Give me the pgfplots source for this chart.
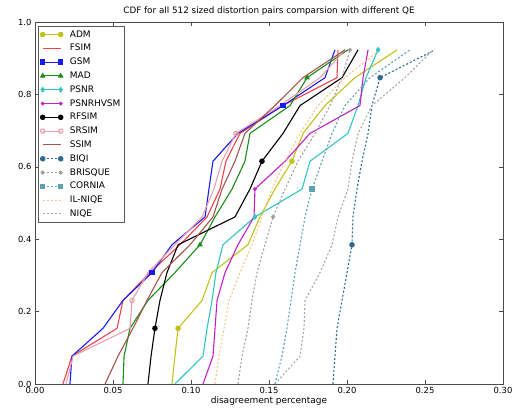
\documentclass[border=0pt]{standalone}
\usepackage{fontspec}
\setmainfont{DejaVu Sans}
\usepackage{pgfplots}
\pgfplotsset{compat=1.18}
\definecolor{cADM}{rgb}{0.76,0.76,0.10}
\definecolor{cFSIM}{rgb}{0.95,0.25,0.30}
\definecolor{cGSM}{rgb}{0.10,0.10,0.95}
\definecolor{cMAD}{rgb}{0.10,0.55,0.10}
\definecolor{cPSNR}{rgb}{0.20,0.77,0.77}
\definecolor{cPSNRH}{rgb}{0.76,0.12,0.78}
\definecolor{cRFSIM}{rgb}{0,0,0}
\definecolor{cSRSIM}{rgb}{0.91,0.63,0.68}
\definecolor{cSSIM}{rgb}{0.64,0.33,0.30}
\definecolor{cBIQI}{rgb}{0.18,0.42,0.56}
\definecolor{cBRISQUE}{rgb}{0.63,0.63,0.63}
\definecolor{cCORNIA}{rgb}{0.37,0.63,0.70}
\definecolor{cILNIQE}{rgb}{0.96,0.78,0.56}
\definecolor{cNIQE}{rgb}{0.64,0.66,0.69}
\begin{document}
\begin{tikzpicture}
\path[use as bounding box] (0pt,0pt) rectangle (512pt,412pt);
\begin{axis}[
  at={(35pt,28pt)}, anchor=south west,
  scale only axis, width=468pt, height=362pt,
  xmin=0, xmax=0.3, ymin=0, ymax=1,
  xtick={0,0.05,0.1,0.15,0.2,0.25,0.3},
  ytick={0,0.2,0.4,0.6,0.8,1.0},
  xticklabel style={/pgf/number format/fixed,/pgf/number format/fixed zerofill,/pgf/number format/precision=2},
  yticklabel style={/pgf/number format/fixed,/pgf/number format/fixed zerofill,/pgf/number format/precision=1},
  /pgf/number format/assume math mode=true,
  tick label style={font=\fontsize{8.4}{9}\selectfont},
  tick align=inside, major tick length=4pt,
  axis line style={black!70}, tick style={black!70},
  xlabel={disagreement percentage},
  xlabel style={font=\fontsize{9}{10}\selectfont, yshift=4pt},
  title={CDF for all 512 sized distortion pairs comparsion with different QE},
  title style={font=\fontsize{8.8}{10}\selectfont, yshift=-3pt},
  legend cell align=left,
  legend style={at={(0.006,0.988)}, anchor=north west, draw=black!65,
    font=\fontsize{9}{10}\selectfont, row sep=2.8pt, inner sep=2.5pt,
    nodes={inner sep=1pt, text height=7pt, text depth=2pt},
    /tikz/every odd column/.append style={column sep=6pt}},
  legend image code/.code={\draw[#1, mark indices={1,2}] plot coordinates {(0pt,0pt) (18pt,0pt)};},
  every axis plot/.append style={line width=1.1pt},
  mark size=2.2pt,
]
\addplot[cADM, mark=*, mark options={fill=cADM}, mark indices={3,9}] coordinates {
(0.0878,0) (0.0897,0.0769) (0.0917,0.1538) (0.1071,0.2308) (0.1135,0.3077) (0.1365,0.3846) (0.1442,0.4615) (0.1538,0.5385) (0.1647,0.6154) (0.1718,0.6923) (0.1859,0.7692) (0.2051,0.8462) (0.2321,0.9231)};
\addlegendentry{ADM}
\addplot[cFSIM, mark=none] coordinates {
(0.0179,0) (0.0237,0.0769) (0.0526,0.1538) (0.0564,0.2308) (0.0737,0.3077) (0.0929,0.3846) (0.1103,0.4615) (0.1186,0.5385) (0.1224,0.6154) (0.1314,0.6923) (0.1590,0.7692) (0.1936,0.8462) (0.1942,0.9231)};
\addlegendentry{FSIM}
\addplot[cGSM, mark=square*, mark options={fill=cGSM}, mark indices={5,11}] coordinates {
(0.0224,0) (0.0237,0.0769) (0.0436,0.1538) (0.0564,0.2308) (0.0750,0.3077) (0.0878,0.3846) (0.1090,0.4615) (0.1115,0.5385) (0.1141,0.6154) (0.1301,0.6923) (0.1590,0.7692) (0.1859,0.8462) (0.1923,0.9231)};
\addlegendentry{GSM}
\addplot[cMAD, mark=triangle*, mark options={fill=cMAD}, mark indices={6,12}] coordinates {
(0.0564,0) (0.0571,0.0769) (0.0609,0.1538) (0.0724,0.2308) (0.0897,0.3077) (0.1058,0.3846) (0.1154,0.4615) (0.1263,0.5385) (0.1346,0.6154) (0.1378,0.6923) (0.1635,0.7692) (0.1744,0.8462) (0.2006,0.9231)};
\addlegendentry{MAD}
\addplot[cPSNR, mark=diamond*, mark options={fill=cPSNR}, mark indices={7,13}] coordinates {
(0.0897,0) (0.1077,0.0769) (0.1103,0.1538) (0.1135,0.2308) (0.1160,0.3077) (0.1205,0.3846) (0.1410,0.4615) (0.1712,0.5385) (0.1763,0.6154) (0.2006,0.6923) (0.2071,0.7692) (0.2122,0.8462) (0.2199,0.9231)};
\addlegendentry{PSNR}
\addplot[cPSNRH, mark=*, mark size=1.3pt, mark options={fill=cPSNRH}, mark indices={8}] coordinates {
(0.1077,0) (0.1141,0.0769) (0.1154,0.1538) (0.1167,0.2308) (0.1218,0.3077) (0.1301,0.3846) (0.1404,0.4615) (0.1410,0.5385) (0.1603,0.6154) (0.1763,0.6923) (0.2083,0.7692) (0.2103,0.8462) (0.2135,0.9231)};
\addlegendentry{PSNRHVSM}
\addplot[cRFSIM, mark=*, mark options={fill=cRFSIM}, mark indices={3,9}] coordinates {
(0.0724,0) (0.0744,0.0769) (0.0769,0.1538) (0.0801,0.2308) (0.0846,0.3077) (0.0917,0.3846) (0.1282,0.4615) (0.1378,0.5385) (0.1455,0.6154) (0.1590,0.6923) (0.1699,0.7692) (0.1968,0.8462) (0.2071,0.9231)};
\addlegendentry{RFSIM}
\addplot[cSRSIM, mark=o, mark indices={4,10}] coordinates {
(0.0199,0) (0.0244,0.0769) (0.0609,0.1538) (0.0622,0.2308) (0.0724,0.3077) (0.0897,0.3846) (0.1071,0.4615) (0.1147,0.5385) (0.1199,0.6154) (0.1288,0.6923) (0.1571,0.7692) (0.1827,0.8462) (0.1987,0.9231)};
\addlegendentry{SRSIM}
\addplot[cSSIM, mark=none] coordinates {
(0.0449,0) (0.0532,0.0769) (0.0628,0.1538) (0.0718,0.2308) (0.0814,0.3077) (0.0994,0.3846) (0.1141,0.4615) (0.1199,0.5385) (0.1282,0.6154) (0.1346,0.6923) (0.1538,0.7692) (0.1718,0.8462) (0.1987,0.9231)};
\addlegendentry{SSIM}
\addplot[cBIQI, dash pattern=on 2pt off 2pt, mark=*, mark options={fill=cBIQI, solid}, mark indices={6,12}] coordinates {
(0.1910,0) (0.1923,0.0769) (0.1936,0.1538) (0.1968,0.2308) (0.2000,0.3077) (0.2032,0.3846) (0.2038,0.4615) (0.2064,0.5385) (0.2096,0.6154) (0.2135,0.6923) (0.2160,0.7692) (0.2212,0.8462) (0.2564,0.9231)};
\addlegendentry{BIQI}
\addplot[cBRISQUE, dash pattern=on 2pt off 2pt, mark=*, mark size=1.5pt, mark options={fill=cBRISQUE, solid}, mark indices={7,13}] coordinates {
(0.1301,0) (0.1327,0.0769) (0.1365,0.1538) (0.1391,0.2308) (0.1423,0.3077) (0.1474,0.3846) (0.1526,0.4615) (0.1603,0.5385) (0.1686,0.6154) (0.1795,0.6923) (0.1891,0.7692) (0.1968,0.8462) (0.2019,0.9231)};
\addlegendentry{BRISQUE}
\addplot[cCORNIA, dash pattern=on 2pt off 2pt, mark=square*, mark options={fill=cCORNIA, solid}, mark indices={8}] coordinates {
(0.1538,0) (0.1583,0.0769) (0.1615,0.1538) (0.1641,0.2308) (0.1667,0.3077) (0.1699,0.3846) (0.1731,0.4615) (0.1776,0.5385) (0.1840,0.6154) (0.1904,0.6923) (0.1987,0.7692) (0.2147,0.8462) (0.2404,0.9231)};
\addlegendentry{CORNIA}
\addplot[cILNIQE, dash pattern=on 2pt off 2pt, mark=none] coordinates {
(0.1154,0) (0.1179,0.0769) (0.1212,0.1538) (0.1244,0.2308) (0.1314,0.3077) (0.1391,0.3846) (0.1455,0.4615) (0.1519,0.5385) (0.1603,0.6154) (0.1699,0.6923) (0.1814,0.7692) (0.1987,0.8462) (0.2212,0.9231)};
\addlegendentry{IL-NIQE}
\addplot[cNIQE, dash pattern=on 2pt off 2pt, mark=none] coordinates {
(0.1538,0) (0.1699,0.0769) (0.1724,0.1538) (0.1731,0.2308) (0.1827,0.3077) (0.1904,0.3846) (0.1942,0.4615) (0.2006,0.5385) (0.2032,0.6154) (0.2071,0.6923) (0.2160,0.7692) (0.2372,0.8462) (0.2551,0.9231)};
\addlegendentry{NIQE}
\end{axis}
\end{tikzpicture}
\end{document}
